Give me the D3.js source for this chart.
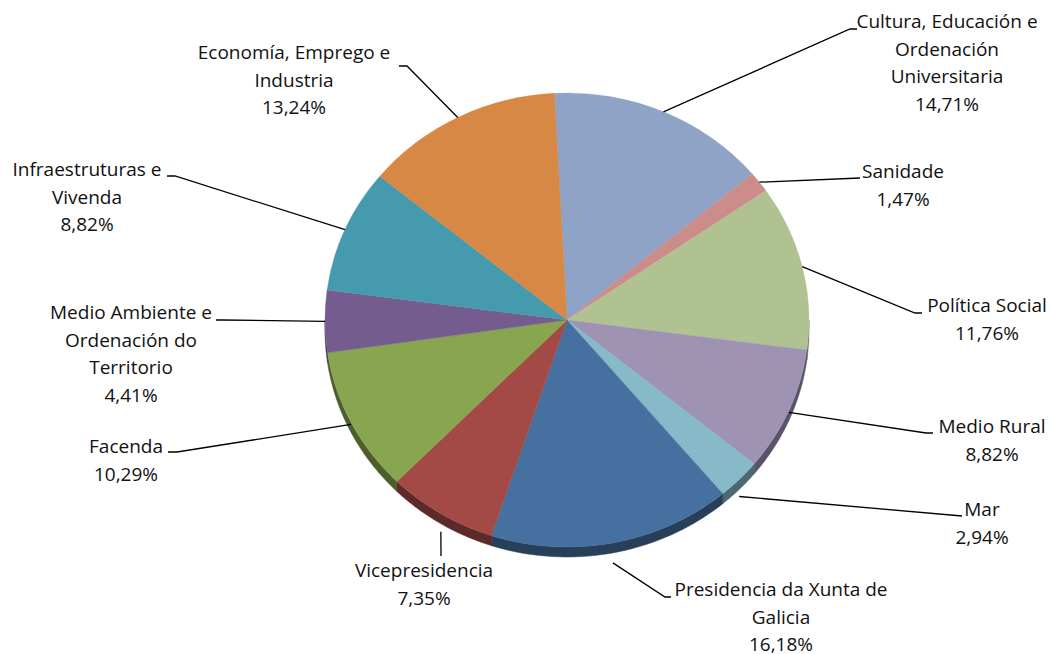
<!DOCTYPE html>
<html>
<head>
<meta charset="utf-8">
<script src="https://cdn.jsdelivr.net/npm/d3@7"></script>
<style>
  html, body { margin: 0; padding: 0; background: #fff; }
  svg { display: block; }
  text { font-family: "Open Sans", Lato, sans-serif; font-size: 19px; fill: #111; }
</style>
</head>
<body>
<svg id="chart" width="1054" height="654"></svg>
<script>
// Department shares (%), clockwise from the top of the pie
const categories = [
  ["Cultura, Educación e", "Ordenación", "Universitaria"],
  ["Sanidade"],
  ["Política Social"],
  ["Medio Rural"],
  ["Mar"],
  ["Presidencia da Xunta de", "Galicia"],
  ["Vicepresidencia"],
  ["Facenda"],
  ["Medio Ambiente e", "Ordenación do", "Territorio"],
  ["Infraestruturas e", "Vivenda"],
  ["Economía, Emprego e", "Industria"]
];
const values = [14.71, 1.47, 11.76, 8.82, 2.94, 16.18, 7.35, 10.29, 4.41, 8.82, 13.24];
const valueLabels = ["14,71%", "1,47%", "11,76%", "8,82%", "2,94%", "16,18%", "7,35%", "10,29%", "4,41%", "8,82%", "13,24%"];
const colors = ["#8EA3C6", "#CB8C8A", "#B0C292", "#9F93B4", "#86BAC8", "#4670A0",
                "#A34A47", "#88A54F", "#745D8E", "#469AAE", "#D68844"];

// Label block layout: text centre x, first baseline y, leader elbow and end points,
// and how far below the slice rim the leader starts (front slices start under the wall)
const labelLayout = [
  { x: 947, y: 28,  elbow: [850, 29],  end: [857, 29],  drop: 0 },
  { x: 903, y: 178, elbow: [860, 178], end: [860, 178], drop: 0 },
  { x: 987, y: 312, elbow: [915, 313], end: [922, 313], drop: 0 },
  { x: 992, y: 433, elbow: [926, 433], end: [933, 433], drop: 2 },
  { x: 982, y: 516, elbow: [962, 516], end: [962, 516], drop: 17 },
  { x: 781, y: 596, elbow: [665, 597], end: [671, 597], drop: 20 },
  { x: 424, y: 577, elbow: [441, 556], end: [441, 556], drop: 18 },
  { x: 126, y: 453, elbow: [177, 452], end: [168, 452], drop: 2 },
  { x: 131, y: 319, elbow: [222, 320], end: [216, 320], drop: 0 },
  { x: 87,  y: 176, elbow: [175, 176], end: [167, 176], drop: 0 },
  { x: 294, y: 59,  elbow: [407, 66],  end: [399, 66],  drop: 0 }
];

const cx = 567, cy = 320, rx = 242, ry = 227, depth = 10;
const lineH = 27.6;
const startDeg = -3;

const svg = d3.select("#chart");

const pie = d3.pie().sort(null).value(d => d)
  .startAngle(startDeg * Math.PI / 180)
  .endAngle((startDeg + 360) * Math.PI / 180);
const arcs = pie(values);

// point on the top ellipse for a d3 angle (0 = up, clockwise)
const ept = (a, dy = 0) => [cx + rx * Math.sin(a), cy - ry * Math.cos(a) + dy];

// side wall of the tilted disc (front half only)
const sideG = svg.append("g");
arcs.forEach((d, i) => {
  const lo = Math.max(d.startAngle, Math.PI / 2);
  const hi = Math.min(d.endAngle, Math.PI * 1.5);
  if (hi <= lo) return;
  const n = 40;
  const top = d3.range(n + 1).map(k => ept(lo + (hi - lo) * k / n));
  const bot = d3.range(n + 1).map(k => ept(hi - (hi - lo) * k / n, depth));
  const side = d3.color(colors[i]).darker(1.6);
  sideG.append("path")
    .attr("d", d3.line()(top.concat(bot)) + "Z")
    .attr("fill", side)
    .attr("stroke", side)
    .attr("stroke-width", 0.5);
});

// top face: circular arcs squashed vertically into an ellipse
const arcGen = d3.arc().innerRadius(0).outerRadius(rx);
const faceG = svg.append("g")
  .attr("transform", `translate(${cx},${cy}) scale(1,${ry / rx})`);
faceG.selectAll("path")
  .data(arcs)
  .join("path")
  .attr("d", arcGen)
  .attr("fill", (d, i) => colors[i])
  .attr("stroke", (d, i) => colors[i])
  .attr("stroke-width", 0.4);

// leader lines from each slice's outer midpoint to its label
const leadG = svg.append("g");
arcs.forEach((d, i) => {
  const mid = (d.startAngle + d.endAngle) / 2;
  const L = labelLayout[i];
  const p0 = ept(mid, L.drop);
  leadG.append("path")
    .attr("d", d3.line()([p0, L.elbow, L.end]))
    .attr("fill", "none")
    .attr("stroke", "#000")
    .attr("stroke-width", 1.3);
});

// labels: category name lines followed by the percentage
const labG = svg.append("g");
categories.forEach((lines, i) => {
  const L = labelLayout[i];
  const t = labG.append("text").attr("text-anchor", "middle");
  lines.concat([valueLabels[i]]).forEach((s, k) => {
    t.append("tspan").attr("x", L.x).attr("y", L.y + k * lineH).text(s);
  });
});
</script>
</body>
</html>
